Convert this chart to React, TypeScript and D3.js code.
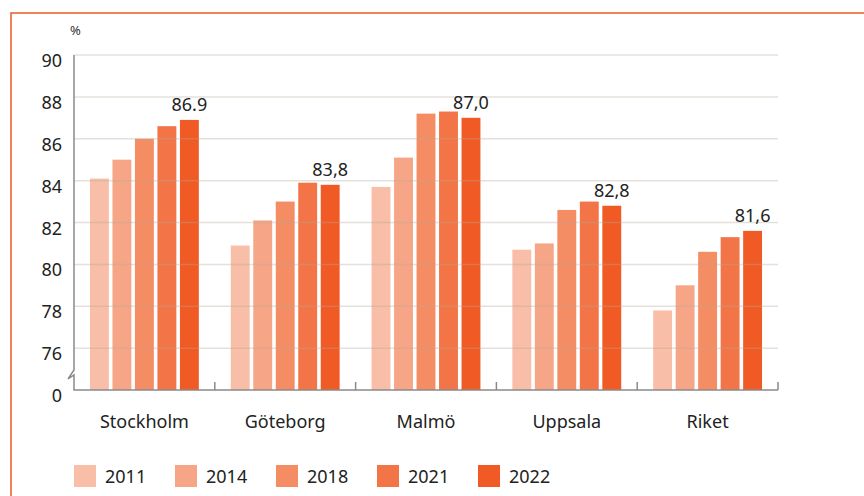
import * as d3 from "d3";

const categories = ["Stockholm", "Göteborg", "Malmö", "Uppsala", "Riket"];
const years = ["2011", "2014", "2018", "2021", "2022"];
// värden per år, i samma ordning som categories
const values: number[][] = [
  [84.1, 80.9, 83.7, 80.7, 77.8], // 2011
  [85.0, 82.1, 85.1, 81.0, 79.0], // 2014
  [86.0, 83.0, 87.2, 82.6, 80.6], // 2018
  [86.6, 83.9, 87.3, 83.0, 81.3], // 2021
  [86.9, 83.8, 87.0, 82.8, 81.6], // 2022
];
const valueLabels = ["86.9", "83,8", "87,0", "82,8", "81,6"];
const yTicks = [76, 78, 80, 82, 84, 86, 88, 90];
const colors = ["#f9bea8", "#f6a687", "#f48d64", "#f27447", "#f05a25"];

const FONT = "'Noto Sans', sans-serif";

export default function App() {
  const width = 864;
  const height = 496;
  const left = 74;
  const right = 778;
  const base = 390;

  const x0 = d3.scaleBand().domain(categories).range([left, right]);
  const x1 = d3
    .scaleBand()
    .domain(years)
    .range([0, x0.bandwidth()])
    .paddingInner(0.16)
    .paddingOuter(0.71);
  const y = d3.scaleLinear().domain([74, 90]).range([base, 55]);

  const bounds = categories.map((c) => x0(c)! + x0.bandwidth());

  return (
    <svg
      width={width}
      height={height}
      style={{ position: "absolute", left: 0, top: 0, background: "#fff" }}
      fontFamily={FONT}
    >
      <rect x={11} y={13} width={width} height={height} fill="none" stroke="#f05a24" strokeWidth={1.5} />

      <text x={70} y={35} fontSize={13} fill="#333">%</text>

      {/* staplar */}
      {years.map((yr, i) => (
        <g key={yr}>
          {categories.map((c, j) => (
            <rect
              key={c}
              x={x0(c)! + x1(yr)!}
              y={y(values[i][j])}
              width={x1.bandwidth()}
              height={base - y(values[i][j])}
              fill={colors[i]}
            />
          ))}
        </g>
      ))}

      {/* stödlinjer ovanpå staplarna */}
      {yTicks.map((t) => (
        <line key={t} x1={left} x2={right} y1={y(t)} y2={y(t)} stroke="#b5aa96" strokeOpacity={0.35} strokeWidth={1.5} />
      ))}

      {/* axlar */}
      <path
        d={`M${left},${y(90)}V370L68,379L${left},375V${base}H${right}`}
        fill="none"
        stroke="#8a8a8a"
        strokeWidth={1.5}
      />
      {bounds.map((bx) => (
        <line key={bx} x1={bx} x2={bx} y1={base} y2={base - 8} stroke="#8a8a8a" strokeWidth={1.5} />
      ))}

      {yTicks.map((t) => (
        <text key={t} x={62} y={y(t) + 12} textAnchor="end" fontSize={18} fill="#222">
          {t}
        </text>
      ))}
      <text x={62} y={base + 12} textAnchor="end" fontSize={18} fill="#222">0</text>

      {/* värdeetiketter */}
      {categories.map((c, j) => (
        <text
          key={c}
          x={x0(c)! + x1("2022")! + x1.bandwidth() / 2}
          y={y(values[4][j]) - 9}
          textAnchor="middle"
          fontSize={18}
          fill="#222"
        >
          {valueLabels[j]}
        </text>
      ))}

      {categories.map((c) => (
        <text key={c} x={x0(c)! + x0.bandwidth() / 2} y={428} textAnchor="middle" fontSize={18} fill="#222">
          {c}
        </text>
      ))}

      {/* förklaring */}
      {years.map((yr, i) => (
        <g key={yr} transform={`translate(${74 + i * 101},465)`}>
          <rect width={22} height={22} fill={colors[i]} />
          <text x={31} y={18} fontSize={18} fill="#222">{yr}</text>
        </g>
      ))}
    </svg>
  );
}
